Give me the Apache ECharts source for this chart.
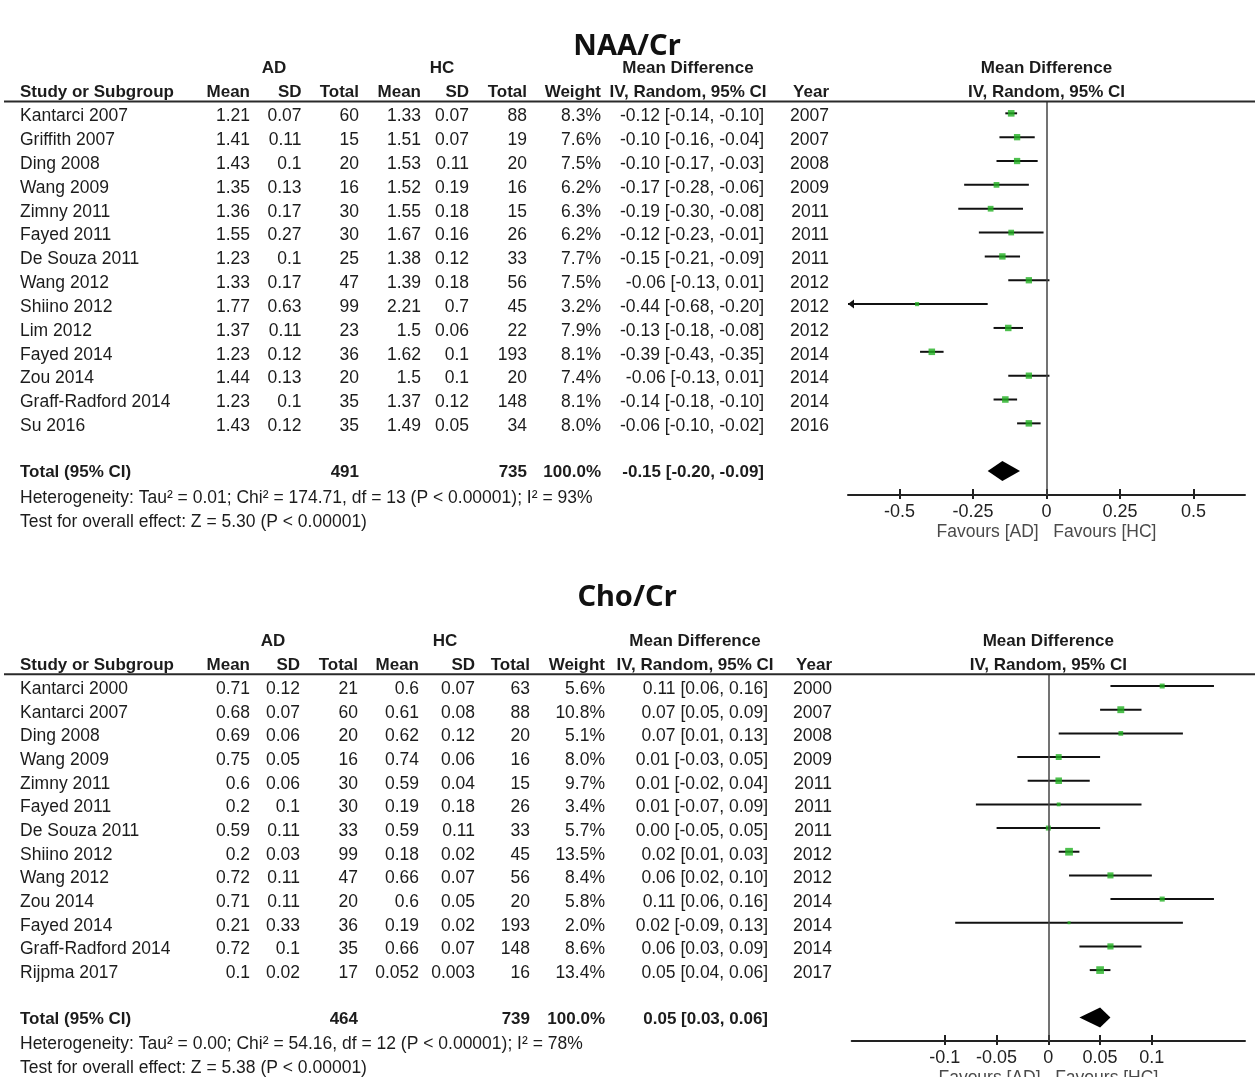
<!DOCTYPE html>
<html>
<head>
<meta charset="utf-8">
<script src="https://cdn.jsdelivr.net/npm/echarts@6/dist/echarts.min.js"></script>
<style>
  html, body { margin: 0; padding: 0; background: #fff; }
  #chart { width: 1255px; height: 1077px; }
</style>
</head>
<body>
<div id="chart"></div>
<script>
// ---------- NAA/Cr ----------
const naaStudies = ['Kantarci 2007', 'Griffith 2007', 'Ding 2008', 'Wang 2009', 'Zimny 2011', 'Fayed 2011',
  'De Souza 2011', 'Wang 2012', 'Shiino 2012', 'Lim 2012', 'Fayed 2014', 'Zou 2014', 'Graff-Radford 2014', 'Su 2016'];
const naaAdMean  = [1.21, 1.41, 1.43, 1.35, 1.36, 1.55, 1.23, 1.33, 1.77, 1.37, 1.23, 1.44, 1.23, 1.43];
const naaAdSd    = [0.07, 0.11, 0.1, 0.13, 0.17, 0.27, 0.1, 0.17, 0.63, 0.11, 0.12, 0.13, 0.1, 0.12];
const naaAdTotal = [60, 15, 20, 16, 30, 30, 25, 47, 99, 23, 36, 20, 35, 35];
const naaHcMean  = [1.33, 1.51, 1.53, 1.52, 1.55, 1.67, 1.38, 1.39, 2.21, 1.5, 1.62, 1.5, 1.37, 1.49];
const naaHcSd    = [0.07, 0.07, 0.11, 0.19, 0.18, 0.16, 0.12, 0.18, 0.7, 0.06, 0.1, 0.1, 0.12, 0.05];
const naaHcTotal = [88, 19, 20, 16, 15, 26, 33, 56, 45, 22, 193, 20, 148, 34];
const naaWeight  = [8.3, 7.6, 7.5, 6.2, 6.3, 6.2, 7.7, 7.5, 3.2, 7.9, 8.1, 7.4, 8.1, 8.0];
const naaMd      = [-0.12, -0.10, -0.10, -0.17, -0.19, -0.12, -0.15, -0.06, -0.44, -0.13, -0.39, -0.06, -0.14, -0.06];
const naaLo      = [-0.14, -0.16, -0.17, -0.28, -0.30, -0.23, -0.21, -0.13, -0.68, -0.18, -0.43, -0.13, -0.18, -0.10];
const naaHi      = [-0.10, -0.04, -0.03, -0.06, -0.08, -0.01, -0.09, 0.01, -0.20, -0.08, -0.35, 0.01, -0.10, -0.02];
const naaYear    = [2007, 2007, 2008, 2009, 2011, 2011, 2011, 2012, 2012, 2012, 2014, 2014, 2014, 2016];
const naaTotals  = { ad: 491, hc: 735, weight: 100.0, md: -0.15, lo: -0.20, hi: -0.09 };
const naaHetero  = 'Heterogeneity: Tau\u00b2 = 0.01; Chi\u00b2 = 174.71, df = 13 (P < 0.00001); I\u00b2 = 93%';
const naaOverall = 'Test for overall effect: Z = 5.30 (P < 0.00001)';
const naaTicks   = [-0.5, -0.25, 0, 0.25, 0.5];

// ---------- Cho/Cr ----------
const choStudies = ['Kantarci 2000', 'Kantarci 2007', 'Ding 2008', 'Wang 2009', 'Zimny 2011', 'Fayed 2011',
  'De Souza 2011', 'Shiino 2012', 'Wang 2012', 'Zou 2014', 'Fayed 2014', 'Graff-Radford 2014', 'Rijpma 2017'];
const choAdMean  = [0.71, 0.68, 0.69, 0.75, 0.6, 0.2, 0.59, 0.2, 0.72, 0.71, 0.21, 0.72, 0.1];
const choAdSd    = [0.12, 0.07, 0.06, 0.05, 0.06, 0.1, 0.11, 0.03, 0.11, 0.11, 0.33, 0.1, 0.02];
const choAdTotal = [21, 60, 20, 16, 30, 30, 33, 99, 47, 20, 36, 35, 17];
const choHcMean  = [0.6, 0.61, 0.62, 0.74, 0.59, 0.19, 0.59, 0.18, 0.66, 0.6, 0.19, 0.66, 0.052];
const choHcSd    = [0.07, 0.08, 0.12, 0.06, 0.04, 0.18, 0.11, 0.02, 0.07, 0.05, 0.02, 0.07, 0.003];
const choHcTotal = [63, 88, 20, 16, 15, 26, 33, 45, 56, 20, 193, 148, 16];
const choWeight  = [5.6, 10.8, 5.1, 8.0, 9.7, 3.4, 5.7, 13.5, 8.4, 5.8, 2.0, 8.6, 13.4];
const choMd      = [0.11, 0.07, 0.07, 0.01, 0.01, 0.01, 0.00, 0.02, 0.06, 0.11, 0.02, 0.06, 0.05];
const choLo      = [0.06, 0.05, 0.01, -0.03, -0.02, -0.07, -0.05, 0.01, 0.02, 0.06, -0.09, 0.03, 0.04];
const choHi      = [0.16, 0.09, 0.13, 0.05, 0.04, 0.09, 0.05, 0.03, 0.10, 0.16, 0.13, 0.09, 0.06];
const choYear    = [2000, 2007, 2008, 2009, 2011, 2011, 2011, 2012, 2012, 2014, 2014, 2014, 2017];
const choTotals  = { ad: 464, hc: 739, weight: 100.0, md: 0.05, lo: 0.03, hi: 0.06 };
const choHetero  = 'Heterogeneity: Tau\u00b2 = 0.00; Chi\u00b2 = 54.16, df = 12 (P < 0.00001); I\u00b2 = 78%';
const choOverall = 'Test for overall effect: Z = 5.38 (P < 0.00001)';
const choTicks   = [-0.1, -0.05, 0, 0.05, 0.1];

// ---------- panel layout ----------
const panels = [
  {
    title: 'NAA/Cr', titleY: 47,
    studies: naaStudies, adMean: naaAdMean, adSd: naaAdSd, adTotal: naaAdTotal,
    hcMean: naaHcMean, hcSd: naaHcSd, hcTotal: naaHcTotal, weight: naaWeight,
    md: naaMd, lo: naaLo, hi: naaHi, year: naaYear, totals: naaTotals,
    hetero: naaHetero, overall: naaOverall, ticks: naaTicks,
    grid: { left: 848, top: 101.4, width: 397, height: 393.5 },
    yMax: 16, xMin: -0.675, xMax: 0.675, boxScale: 2.3,
    col: { study: 20, adMean: 250, adSd: 301.5, adTotal: 359, hcMean: 421, hcSd: 469, hcTotal: 527,
           weight: 601, ci: 764, year: 829, adCenter: 274, hcCenter: 442, mdCenter: 688 }
  },
  {
    title: 'Cho/Cr', titleY: 598,
    studies: choStudies, adMean: choAdMean, adSd: choAdSd, adTotal: choAdTotal,
    hcMean: choHcMean, hcSd: choHcSd, hcTotal: choHcTotal, weight: choWeight,
    md: choMd, lo: choLo, hi: choHi, year: choYear, totals: choTotals,
    hetero: choHetero, overall: choOverall, ticks: choTicks,
    grid: { left: 851.7, top: 674.2, width: 393.3, height: 366.9 },
    yMax: 15, xMin: -0.19, xMax: 0.19, boxScale: 2.1,
    col: { study: 20, adMean: 250, adSd: 300, adTotal: 358, hcMean: 419, hcSd: 475, hcTotal: 530,
           weight: 605, ci: 768, year: 832, adCenter: 273, hcCenter: 445, mdCenter: 695 }
  }
];

const FONT = '"Liberation Sans", Arial, Helvetica, sans-serif';
const TEXT_COLOR = '#1c1c1c';
const BOX_GREEN = '#22b022';
const f2 = v => v.toFixed(2);
const ciText = (m, l, h) => f2(m) + ' [' + f2(l) + ', ' + f2(h) + ']';

const chart = echarts.init(document.getElementById('chart'), null, { renderer: 'canvas' });

const grids = [], xAxes = [], yAxes = [], series = [];

panels.forEach((p, pi) => {
  grids.push(Object.assign({ containLabel: false, outerBoundsMode: 'none' }, p.grid));

  // main axis: line, upward ticks, labels and the "Favours" caption
  xAxes.push({
    type: 'value', gridIndex: pi, min: p.xMin, max: p.xMax, position: 'bottom',
    axisLine: { show: true, onZero: false, lineStyle: { color: '#222', width: 2 } },
    axisTick: { show: true, inside: true, length: 6, customValues: p.ticks, lineStyle: { color: '#222', width: 2 } },
    axisLabel: { show: true, customValues: p.ticks, color: '#222', fontSize: 18, fontFamily: FONT, margin: 8,
                 formatter: v => String(v) },
    splitLine: { show: false },
    name: 'Favours [AD]   Favours [HC]', nameLocation: 'middle', nameGap: 28,
    nameTextStyle: { color: '#4a4a4a', fontSize: 17.5, fontFamily: FONT }
  });
  // companion axis: short downward tick stubs so ticks cross the axis line
  xAxes.push({
    type: 'value', gridIndex: pi, min: p.xMin, max: p.xMax, position: 'bottom',
    axisLine: { show: false, onZero: false },
    axisTick: { show: true, inside: false, length: 4, customValues: p.ticks, lineStyle: { color: '#222', width: 2 } },
    axisLabel: { show: false },
    splitLine: { show: false }
  });
  yAxes.push({
    type: 'value', gridIndex: pi, min: -0.5, max: p.yMax, inverse: true, show: false,
    splitLine: { show: false }
  });

  const xi = pi * 2, yi = pi;

  // confidence interval whiskers (with an arrow when the interval runs off the axis)
  series.push({
    type: 'custom', xAxisIndex: xi, yAxisIndex: yi, silent: true, z: 2,
    encode: { x: 0, y: 1 },
    data: p.md.map((m, i) => [m, i, p.lo[i], p.hi[i]]),
    renderItem: (params, api) => {
      const row = api.value(1);
      const cs = params.coordSys;
      const y = api.coord([0, row])[1];
      let x1 = api.coord([api.value(2), row])[0];
      let x2 = api.coord([api.value(3), row])[0];
      const left = cs.x, right = cs.x + cs.width;
      const clipL = x1 < left, clipR = x2 > right;
      x1 = Math.max(x1, left); x2 = Math.min(x2, right);
      const children = [{
        type: 'line', shape: { x1: x1, y1: y, x2: x2, y2: y },
        style: { stroke: '#111', lineWidth: 2 }
      }];
      if (clipL) children.push({ type: 'polygon', shape: { points: [[left, y], [left + 6, y - 4.5], [left + 6, y + 4.5]] }, style: { fill: '#111' } });
      if (clipR) children.push({ type: 'polygon', shape: { points: [[right, y], [right - 6, y - 4.5], [right - 6, y + 4.5]] }, style: { fill: '#111' } });
      return { type: 'group', children: children };
    }
  });

  // study estimates: square area follows weight; zero reference line
  series.push({
    type: 'scatter', xAxisIndex: xi, yAxisIndex: yi, silent: true, z: 3,
    symbol: 'rect', symbolSize: v => p.boxScale * Math.sqrt(v[2]),
    itemStyle: { color: BOX_GREEN },
    data: p.md.map((m, i) => [m, i, p.weight[i]]),
    markLine: {
      silent: true, symbol: 'none', label: { show: false }, animation: false,
      lineStyle: { color: '#454545', width: 1.5, type: 'solid' },
      data: [{ xAxis: 0 }]
    }
  });

  // pooled estimate diamond
  const totalRow = p.studies.length + 1;
  series.push({
    type: 'custom', xAxisIndex: xi, yAxisIndex: yi, silent: true, z: 3,
    encode: { x: 0, y: 1 },
    data: [[p.totals.md, totalRow, p.totals.lo, p.totals.hi]],
    renderItem: (params, api) => {
      const row = api.value(1);
      const c = api.coord([api.value(0), row]);
      const l = api.coord([api.value(2), row]);
      const r = api.coord([api.value(3), row]);
      return {
        type: 'polygon',
        shape: { points: [[l[0], c[1]], [c[0], c[1] - 10], [r[0], c[1]], [c[0], c[1] + 10]] },
        style: { fill: '#000' }
      };
    }
  });
});

chart.setOption({
  animation: false,
  backgroundColor: '#fff',
  grid: grids,
  xAxis: xAxes,
  yAxis: yAxes,
  series: series
});

// ---------- table text, placed on each panel's row scale ----------
const elements = [];
function txt(x, y, text, align, opts) {
  opts = opts || {};
  const size = opts.size || 17.5;
  const weight = opts.bold ? 'bold ' : '';
  const family = opts.family || FONT;
  elements.push({
    type: 'text', x: x, y: y, silent: true, z: 10,
    style: {
      text: text, fill: opts.color || TEXT_COLOR,
      font: weight + size + 'px ' + family,
      align: align, textAlign: align,
      verticalAlign: 'middle', textVerticalAlign: 'middle'
    }
  });
}

panels.forEach((p, pi) => {
  const rowY = r => chart.convertToPixel({ yAxisIndex: pi }, r) + 3;
  const c = p.col;
  const n = p.studies.length;
  const zeroX = chart.convertToPixel({ xAxisIndex: pi * 2 }, 0);

  // panel title
  txt(627, p.titleY, p.title, 'center', { bold: true, size: 29, family: '"Noto Sans", "Open Sans", sans-serif', color: '#111' });

  // header rows
  const h1 = rowY(-2), h2 = rowY(-1);
  txt(c.adCenter, h1, 'AD', 'center', { bold: true, size: 17 });
  txt(c.hcCenter, h1, 'HC', 'center', { bold: true, size: 17 });
  txt(c.mdCenter, h1, 'Mean Difference', 'center', { bold: true, size: 17 });
  txt(zeroX, h1, 'Mean Difference', 'center', { bold: true, size: 17 });
  txt(c.study, h2, 'Study or Subgroup', 'left', { bold: true, size: 17 });
  txt(c.adMean, h2, 'Mean', 'right', { bold: true, size: 17 });
  txt(c.adSd, h2, 'SD', 'right', { bold: true, size: 17 });
  txt(c.adTotal, h2, 'Total', 'right', { bold: true, size: 17 });
  txt(c.hcMean, h2, 'Mean', 'right', { bold: true, size: 17 });
  txt(c.hcSd, h2, 'SD', 'right', { bold: true, size: 17 });
  txt(c.hcTotal, h2, 'Total', 'right', { bold: true, size: 17 });
  txt(c.weight, h2, 'Weight', 'right', { bold: true, size: 17 });
  txt(c.mdCenter, h2, 'IV, Random, 95% CI', 'center', { bold: true, size: 17 });
  txt(c.year, h2, 'Year', 'right', { bold: true, size: 17 });
  txt(zeroX, h2, 'IV, Random, 95% CI', 'center', { bold: true, size: 17 });

  // rule under the header
  const ruleY = chart.convertToPixel({ yAxisIndex: pi }, -0.5);
  elements.push({
    type: 'line', silent: true, z: 5,
    shape: { x1: 4, y1: ruleY, x2: 1255, y2: ruleY },
    style: { stroke: '#2a2a2a', lineWidth: 2 }
  });

  // study rows
  p.studies.forEach((s, i) => {
    const y = rowY(i);
    txt(c.study, y, s, 'left');
    txt(c.adMean, y, String(p.adMean[i]), 'right');
    txt(c.adSd, y, String(p.adSd[i]), 'right');
    txt(c.adTotal, y, String(p.adTotal[i]), 'right');
    txt(c.hcMean, y, String(p.hcMean[i]), 'right');
    txt(c.hcSd, y, String(p.hcSd[i]), 'right');
    txt(c.hcTotal, y, String(p.hcTotal[i]), 'right');
    txt(c.weight, y, p.weight[i].toFixed(1) + '%', 'right');
    txt(c.ci, y, ciText(p.md[i], p.lo[i], p.hi[i]), 'right');
    txt(c.year, y, String(p.year[i]), 'right');
  });

  // pooled row and summary statistics
  const ty = rowY(n + 1) - 1.5;
  txt(c.study, ty, 'Total (95% CI)', 'left', { bold: true, size: 17 });
  txt(c.adTotal, ty, String(p.totals.ad), 'right', { bold: true, size: 17 });
  txt(c.hcTotal, ty, String(p.totals.hc), 'right', { bold: true, size: 17 });
  txt(c.weight, ty, p.totals.weight.toFixed(1) + '%', 'right', { bold: true, size: 17 });
  txt(c.ci, ty, ciText(p.totals.md, p.totals.lo, p.totals.hi), 'right', { bold: true, size: 17 });
  txt(c.study, rowY(n + 2), p.hetero, 'left');
  txt(c.study, rowY(n + 3), p.overall, 'left');
});

chart.setOption({ graphic: { elements: elements } });
</script>
</body>
</html>
